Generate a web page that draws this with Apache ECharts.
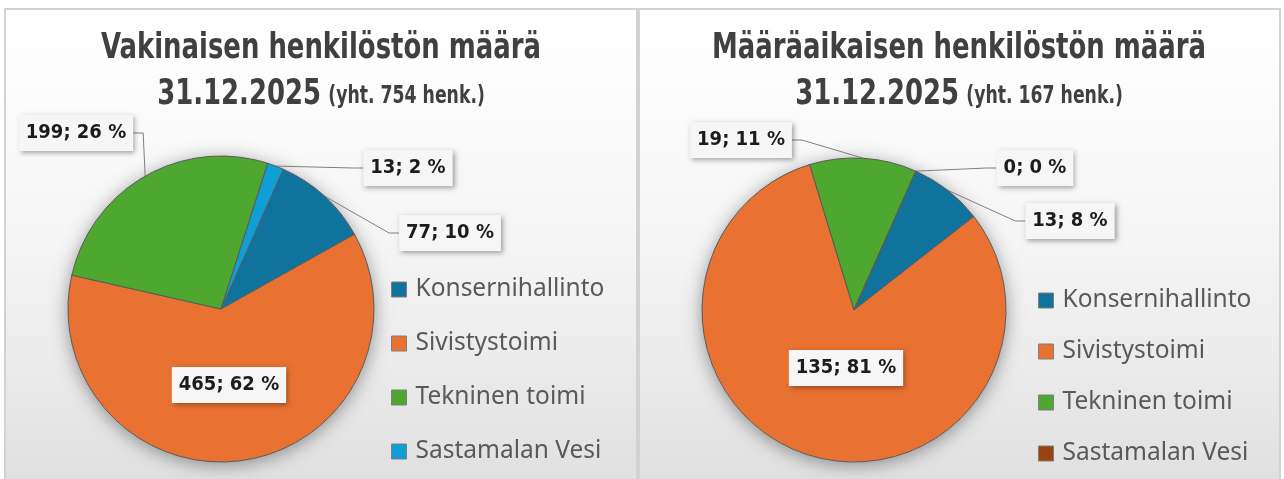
<!DOCTYPE html>
<html>
<head>
<meta charset="utf-8">
<script src="https://cdn.jsdelivr.net/npm/echarts@6/dist/echarts.min.js"></script>
<style>
html,body{margin:0;padding:0;background:#ffffff;}
#chart{width:1284px;height:479px;}
</style>
</head>
<body>
<div id="chart"></div>
<script>
// ---- data ----
const categories = ['Konsernihallinto', 'Sivistystoimi', 'Tekninen toimi', 'Sastamalan Vesi'];
const vakinaiset = [77, 465, 199, 13];
const maaraaikaiset = [13, 135, 19, 0];
const titleLeft = 'Vakinaisen henkilöstön määrä';
const titleRight = 'Määräaikaisen henkilöstön määrä';
const dateText = '31.12.2025';

// ---- styles ----
const colorsLeft = ['#10739e', '#E97132', '#4EA72E', '#0F9ED5'];
const colorsRight = ['#10739e', '#E97132', '#4EA72E', '#9C420F'];
const narrow = '"DejaVu Sans Condensed", "Liberation Sans Narrow", sans-serif';
const legendFont = '"Noto Sans", "Open Sans", sans-serif';

const sum = a => a.reduce((s, v) => s + v, 0);

// label box centres (layout only)
const labelPos = {
  1: [[450, 233], [229, 385], [76, 133], [408, 168]],
  3: [[1070, 221], [846, 368], [741, 140], [1035, 168]]
};

function titleGraphics(text, total, x) {
  return [
    {
      type: 'text', x: x, y: 49, scaleX: 0.8, silent: true,
      style: { text: text, fontFamily: narrow, fontSize: 36, fontWeight: 'bold', fill: '#404040', align: 'center', verticalAlign: 'middle' }
    },
    {
      type: 'text', x: x, y: 93, scaleX: 0.8, silent: true,
      style: {
        text: '{d|' + dateText + '}{s|(yht. ' + total + ' henk.)}',
        fill: '#404040', align: 'center', verticalAlign: 'middle',
        rich: {
          d: { fontFamily: narrow, fontSize: 36, fontWeight: 'bold', fill: '#404040', lineHeight: 40, verticalAlign: 'bottom' },
          s: { fontFamily: narrow, fontSize: 24, fontWeight: 'bold', fill: '#404040', lineHeight: 26, verticalAlign: 'bottom', padding: [0, 0, 4, 9] }
        }
      }
    }
  ];
}

function makeLegend(colors, x, y, gap) {
  return {
    orient: 'vertical', left: x, top: y, padding: 0,
    itemWidth: 15, itemHeight: 15, itemGap: gap, icon: 'rect',
    selectedMode: false,
    itemStyle: { borderColor: '#7f7f7f', borderWidth: 1 },
    textStyle: { fontFamily: legendFont, fontSize: 24.5, color: '#595959', padding: [0, 0, 0, 4] },
    data: categories.map((n, i) => ({ name: n, itemStyle: { color: colors[i] } }))
  };
}

function shadowSeries(center, radius, total) {
  return {
    type: 'pie', silent: true, z: 1, center: center, radius: radius,
    label: { show: false }, labelLine: { show: false },
    data: [{ value: total, name: '', itemStyle: { color: '#ffffff', shadowBlur: 18, shadowOffsetY: 3, shadowColor: 'rgba(0,0,0,0.4)' } }]
  };
}

function mainSeries(values, colors, center, radius) {
  return {
    type: 'pie', z: 2, center: center, radius: radius,
    startAngle: 66, clockwise: true, percentPrecision: 0,
    avoidLabelOverlap: false,
    itemStyle: { borderColor: '#5a5a5a', borderWidth: 1 },
    emphasis: { disabled: true },
    label: {
      show: true, position: 'outside',
      formatter: p => p.value + '; ' + p.percent + ' %',
      fontFamily: narrow, fontSize: 20, fontWeight: 'bold', color: '#1c1c1c',
      backgroundColor: '#f6f6f6', padding: [8, 7, 8, 7],
      shadowBlur: 5, shadowOffsetX: 2, shadowOffsetY: 2, shadowColor: 'rgba(0,0,0,0.35)'
    },
    labelLine: { show: true, length: 10, length2: 10, lineStyle: { color: '#7f7f7f', width: 1 } },
    labelLayout: function (params) {
      const pos = labelPos[params.seriesIndex][params.dataIndex];
      return { x: pos[0], y: pos[1], align: 'center', verticalAlign: 'middle' };
    },
    data: categories.map((n, i) => {
      const item = { name: n, value: values[i], itemStyle: { color: colors[i] } };
      if (i === 1) {
        item.label = { position: 'inside' };
        item.labelLine = { show: false };
      }
      return item;
    })
  };
}

const panelFill = new echarts.graphic.LinearGradient(0, 0, 0, 1, [
  { offset: 0, color: '#ffffff' },
  { offset: 0.5, color: '#f5f5f5' },
  { offset: 1, color: '#e0e0e0' }
]);

const chart = echarts.init(document.getElementById('chart'), null, { renderer: 'canvas' });
chart.setOption({
  animation: false,
  backgroundColor: '#ffffff',
  graphic: [
    { type: 'rect', z: -10, silent: true, shape: { x: 5, y: 9, width: 632, height: 475 }, style: { fill: panelFill, stroke: '#d2d2d2', lineWidth: 2 } },
    { type: 'rect', z: -10, silent: true, shape: { x: 639, y: 9, width: 641, height: 475 }, style: { fill: panelFill, stroke: '#d2d2d2', lineWidth: 2 } }
  ].concat(titleGraphics(titleLeft, sum(vakinaiset), 321), titleGraphics(titleRight, sum(maaraaikaiset), 959)),
  legend: [
    makeLegend(colorsLeft, 391, 277, 29),
    makeLegend(colorsRight, 1038, 288, 26)
  ],
  series: [
    shadowSeries([221, 309], 153, sum(vakinaiset)),
    mainSeries(vakinaiset, colorsLeft, [221, 309], 153),
    shadowSeries([854, 310], 152, sum(maaraaikaiset)),
    mainSeries(maaraaikaiset, colorsRight, [854, 310], 152)
  ]
});
</script>
</body>
</html>
